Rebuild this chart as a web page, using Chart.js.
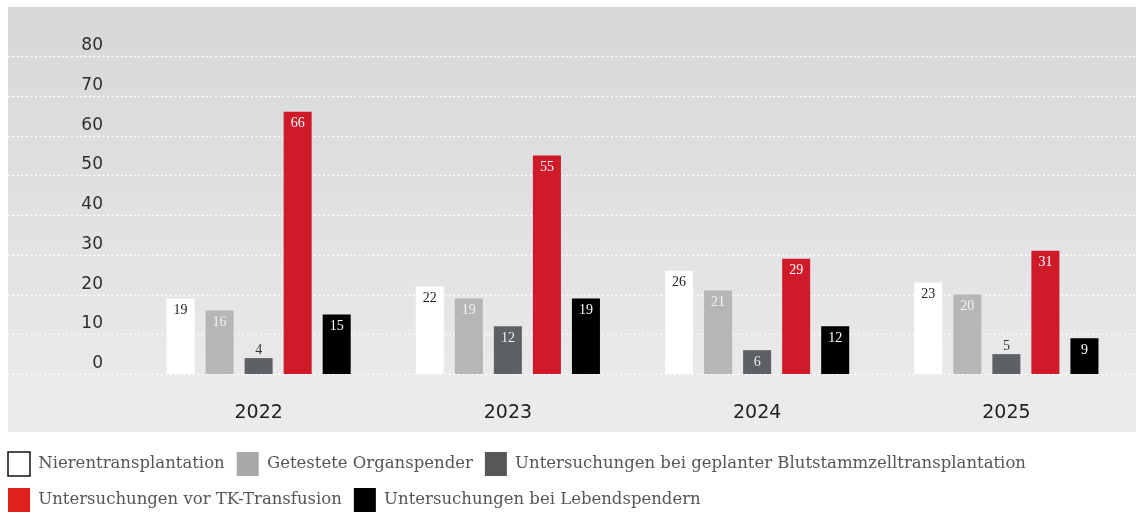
<!DOCTYPE html>
<html>
<head>
<meta charset="utf-8">
<script src="https://cdn.jsdelivr.net/npm/chart.js@4/dist/chart.umd.min.js"></script>
<style>
  html, body { margin: 0; padding: 0; background: #fff; }
  #wrap { width: 1136px; height: 516px; }
</style>
</head>
<body>
<div id="wrap"><canvas id="myChart" width="1136" height="516"></canvas></div>
<script>
  // data
  const YEARS = ["2022", "2023", "2024", "2025"];
  const SERIES_NAMES = [
    "Nierentransplantation",
    "Getestete Organspender",
    "Untersuchungen bei geplanter Blutstammzelltransplantation",
    "Untersuchungen vor TK-Transfusion",
    "Untersuchungen bei Lebendspendern",
  ];
  const niere = [19, 22, 26, 23];
  const organspender = [16, 19, 21, 20];
  const blutstammzell = [4, 12, 6, 5];
  const tkTransfusion = [66, 55, 29, 31];
  const lebendspender = [15, 19, 12, 9];
  const Y_TICKS = [0, 10, 20, 30, 40, 50, 60, 70, 80];

  const barColors = ["#ffffff", "#b5b6b8", "#5d6064", "#cf1a2a", "#000000"];
  const legendColors = ["#ffffff", "#a9a9a9", "#575757", "#e0201c", "#000000"];
  const labelColors = ["#222222", "#f2f2f2", "#eeeeee", "#ffffff", "#ffffff"];

  const SERIF = "'DejaVu Serif', serif";
  const SANS = "'DejaVu Sans', sans-serif";

  // gray panel behind the plot
  const panelPlugin = {
    id: "panel",
    beforeDraw(chart) {
      const ctx = chart.ctx;
      const g = ctx.createLinearGradient(0, 7, 0, 432);
      g.addColorStop(0, "#d6d7d9");
      g.addColorStop(1, "#ececed");
      ctx.save();
      ctx.fillStyle = g;
      ctx.fillRect(8, 7, 1128, 425);
      ctx.restore();
    },
    // dotted grid lines across the whole panel + labels above them
    beforeDatasetsDraw(chart) {
      const ctx = chart.ctx;
      const y = chart.scales.y;
      ctx.save();
      ctx.strokeStyle = "rgba(255,255,255,0.95)";
      ctx.lineWidth = 1.5;
      ctx.setLineDash([2, 2.5]);
      ctx.font = "17px " + SANS;
      ctx.fillStyle = "#2e2e2e";
      ctx.textAlign = "right";
      ctx.textBaseline = "middle";
      Y_TICKS.forEach((v) => {
        const py = Math.round(y.getPixelForValue(v)) + 0.5;
        ctx.beginPath();
        ctx.moveTo(8, py);
        ctx.lineTo(1136, py);
        ctx.stroke();
        ctx.fillText(String(v), 103, py - 11);
      });
      ctx.restore();
    },
  };

  // value labels inside the bars
  const valueLabelPlugin = {
    id: "valueLabels",
    afterDatasetsDraw(chart) {
      const ctx = chart.ctx;
      ctx.save();
      ctx.font = "14px 'Liberation Serif', serif";
      ctx.textAlign = "center";
      ctx.textBaseline = "middle";
      chart.data.datasets.forEach((ds, di) => {
        const meta = chart.getDatasetMeta(di);
        meta.data.forEach((bar, i) => {
          const h = bar.base - bar.y;
          if (h < 20) {
            ctx.fillStyle = "#333";
            ctx.fillText(String(ds.data[i]), bar.x, bar.y - 8);
          } else {
            ctx.fillStyle = labelColors[di];
            ctx.fillText(String(ds.data[i]), bar.x, bar.y + 12);
          }
        });
      });
      ctx.restore();
    },
  };

  const seriesData = [niere, organspender, blutstammzell, tkTransfusion, lebendspender];

  const config = {
    type: "bar",
    data: {
      labels: YEARS,
      datasets: seriesData.map((d, i) => ({
        label: SERIES_NAMES[i],
        data: d,
        backgroundColor: barColors[i],
        borderWidth: 0,
        categoryPercentage: 0.783,
        barPercentage: 0.718,
      })),
    },
    options: {
      responsive: false,
      animation: false,
      devicePixelRatio: 1,
      layout: { padding: { top: 56, left: -4, right: 5, bottom: -6 } },
      scales: {
        x: {
          grid: { display: false },
          border: { display: false },
          ticks: {
            padding: 20,
            color: "#222",
            font: { family: SANS, size: 19 },
          },
          afterFit(scale) { scale.height = 66; },
        },
        y: {
          min: 0,
          max: 80,
          grid: { display: false },
          border: { display: false },
          ticks: { display: false, stepSize: 10 },
          afterFit(scale) { scale.width = 138; },
        },
      },
      plugins: {
        tooltip: { enabled: false },
        legend: {
          position: "bottom",
          align: "start",
          labels: {
            boxWidth: 22,
            boxHeight: 24,
            padding: 12,
            color: "#555",
            font: { family: SERIF, size: 16.5 },
            generateLabels(chart) {
              return chart.data.datasets.map((ds, i) => ({
                text: ds.label,
                fillStyle: legendColors[i],
                strokeStyle: i === 0 ? "#111" : legendColors[i],
                lineWidth: i === 0 ? 1.5 : 0,
                fontColor: "#555",
                hidden: false,
                datasetIndex: i,
              }));
            },
          },
        },
      },
    },
    plugins: [panelPlugin, valueLabelPlugin],
  };

  const ctx = document.getElementById("myChart");
  const myChart = new Chart(ctx, config);
</script>
</body>
</html>
